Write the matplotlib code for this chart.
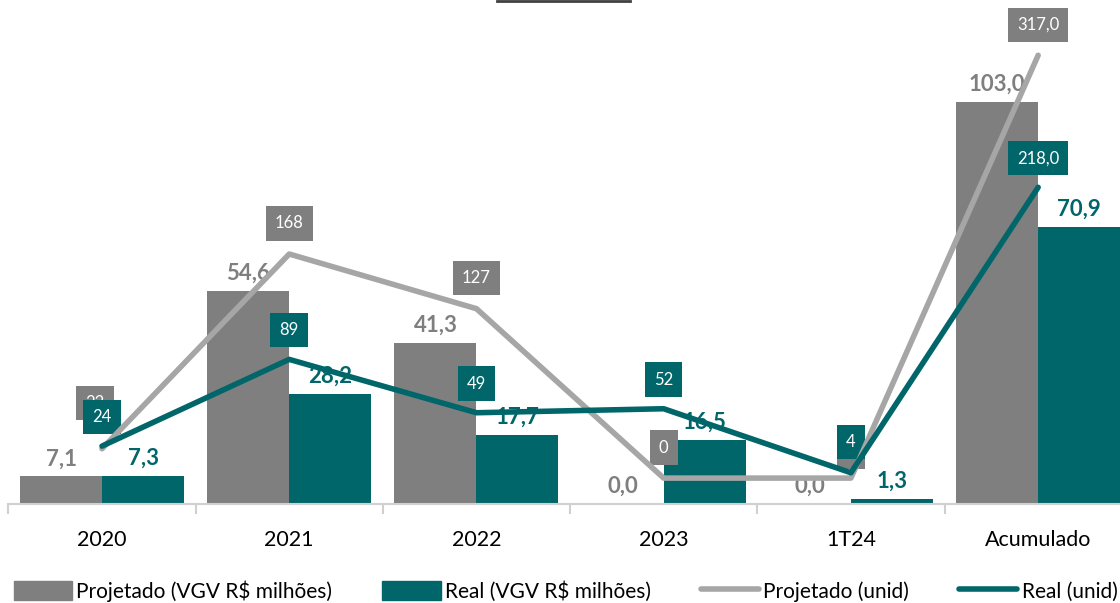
import matplotlib.pyplot as plt
from matplotlib.lines import Line2D

plt.rcParams['font.family'] = ['Lato', 'DejaVu Sans']

categorias = ['2020', '2021', '2022', '2023', '1T24', 'Acumulado']
proj_vgv = [7.1, 54.6, 41.3, 0.0, 0.0, 103.0]
real_vgv = [7.3, 28.2, 17.7, 16.5, 1.3, 70.9]
proj_unid = [22, 168, 127, 0, 0, 317]
real_unid = [24, 89, 49, 52, 4, 218]
rot_proj_unid = ['22', '168', '127', '0', '0', '317,0']
rot_real_unid = ['24', '89', '49', '52', '4', '218,0']

cinza = '#7f7f7f'
cinza_claro = '#a6a6a6'
verde = '#00666a'

fig = plt.figure(figsize=(11.2, 6.03), dpi=100)
ax = fig.add_axes([0.0075, 0.164, 1.003, 0.8275])
ax2 = ax.twinx()

x = list(range(len(categorias)))
w = 0.438
ax.bar([i - w / 2 for i in x], proj_vgv, w, color=cinza, zorder=2)
ax.bar([i + w / 2 for i in x], real_vgv, w, color=verde, zorder=2)
ax.set_ylim(0, 127.7)
ax.set_xlim(-0.5, 5.5)

for i in x:
    ax.annotate(f'{proj_vgv[i]:.1f}'.replace('.', ','), (i - w / 2, proj_vgv[i]),
                xytext=(0, 5), textcoords='offset points', ha='center', va='bottom',
                color=cinza, fontsize=16, fontweight='bold', zorder=3)
    ax.annotate(f'{real_vgv[i]:.1f}'.replace('.', ','), (i + w / 2, real_vgv[i]),
                xytext=(0, 5), textcoords='offset points', ha='center', va='bottom',
                color=verde, fontsize=16, fontweight='bold', zorder=3)

ax2.plot(x, proj_unid, color=cinza_claro, lw=4, solid_capstyle='round', zorder=4)
ax2.plot(x, real_unid, color=verde, lw=4, solid_capstyle='round', zorder=5)
ax2.set_ylim(-19.5, 354.6)

# rótulos das linhas (caixas)
off_proj = [(-5, 33), (0, 22), (0, 22), (0, 22), (0, 19), (0, 22)]
off_real = [(0, 21), (0, 21), (0, 21), (0, 21), (0, 22), (0, 21)]
for i in x:
    ax2.annotate(rot_proj_unid[i], (i, proj_unid[i]), xytext=off_proj[i],
                 textcoords='offset points', ha='center', va='center',
                 color='white', fontsize=12,
                 bbox=dict(boxstyle='square,pad=0.55', fc=cinza, ec='none'))
    ax2.annotate(rot_real_unid[i], (i, real_unid[i]), xytext=off_real[i],
                 textcoords='offset points', ha='center', va='center',
                 color='white', fontsize=12,
                 bbox=dict(boxstyle='square,pad=0.55', fc=verde, ec='none'))

for a in (ax, ax2):
    a.spines['top'].set_visible(False)
    a.spines['left'].set_visible(False)
    a.spines['right'].set_visible(False)
    a.set_yticks([])
ax.spines['bottom'].set_color('#d0d0d0')
ax.spines['bottom'].set_linewidth(1.5)
ax2.spines['bottom'].set_visible(False)

ax.set_xticks(x)
ax.set_xticklabels(categorias, fontsize=15.5)
ax.tick_params(axis='x', length=0, pad=19)
ax.set_xticks([i - 0.5 for i in range(len(categorias) + 1)], minor=True)
ax.tick_params(axis='x', which='minor', length=7, width=1.5, color='#d0d0d0')

# traço do título cortado no topo
fig.add_artist(Line2D([497 / 1120, 630 / 1120], [602 / 603, 602 / 603],
                      color='#404040', lw=2))

handles = [
    plt.Rectangle((0, 0), 1, 1, color=cinza),
    plt.Rectangle((0, 0), 1, 1, color=verde),
    Line2D([], [], color=cinza_claro, lw=4, solid_capstyle='round'),
    Line2D([], [], color=verde, lw=4, solid_capstyle='round'),
]
labels = ['Projetado (VGV R$ milhões)', 'Real (VGV R$ milhões)',
          'Projetado (unid)', 'Real (unid)']
fig.legend(handles, labels, loc='center', bbox_to_anchor=(0.505, 0.02), ncol=4,
           frameon=False, fontsize=15, handlelength=2.8, handleheight=1.0,
           handletextpad=0.2, columnspacing=2.4)

fig.savefig('out.png', dpi=100)
